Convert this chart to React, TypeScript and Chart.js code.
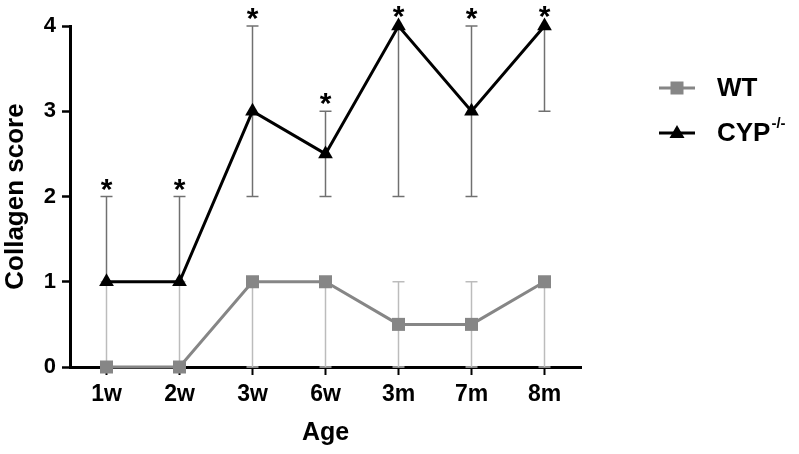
import React, { useEffect, useRef } from 'react';
import { Chart, registerables } from 'chart.js';

Chart.register(...registerables);

const categories = ['1w', '2w', '3w', '6w', '3m', '7m', '8m'];
const wtValues = [0, 0, 1, 1, 0.5, 0.5, 1];
const wtLow = [0, 0, 0, 0, 0, 0, 0];
const wtHigh = [1, 1, 1, 1, 1, 1, 1];
const cypValues = [1, 1, 3, 2.5, 4, 3, 4];
const cypLow = [1, 1, 2, 2, 2, 2, 3];
const cypHigh = [2, 2, 4, 3, 4, 4, 4];
const significant = [true, true, true, true, true, true, true];
const yMin = 0;
const yMax = 4;
const yStep = 1;

const FONT = "'Liberation Sans', Arial, Helvetica, sans-serif";
const WT_COLOR = '#868686';
const CYP_COLOR = '#000000';
const WT_ERR = '#bcbcbc';
const CYP_ERR = '#707070';

const errorBarPlugin = {
  id: 'errorBars',
  beforeDatasetsDraw(chart: any) {
    const { ctx, scales } = chart;
    const xs = scales.x;
    const ys = scales.y;
    const draw = (low: number[], high: number[], vals: number[], color: string) => {
      ctx.save();
      ctx.strokeStyle = color;
      ctx.lineWidth = 1.5;
      const cap = 6;
      vals.forEach((v, i) => {
        const px = xs.getPixelForValue(i);
        const yl = ys.getPixelForValue(low[i]);
        const yh = ys.getPixelForValue(high[i]);
        ctx.beginPath();
        ctx.moveTo(px, yl);
        ctx.lineTo(px, yh);
        ctx.stroke();
        if (high[i] > v) {
          ctx.beginPath();
          ctx.moveTo(px - cap, yh);
          ctx.lineTo(px + cap, yh);
          ctx.stroke();
        }
        if (low[i] < v) {
          ctx.beginPath();
          ctx.moveTo(px - cap, yl);
          ctx.lineTo(px + cap, yl);
          ctx.stroke();
        }
      });
      ctx.restore();
    };
    draw(cypLow, cypHigh, cypValues, CYP_ERR);
    draw(wtLow, wtHigh, wtValues, WT_ERR);
  },
  afterDatasetsDraw(chart: any) {
    const { ctx, scales } = chart;
    const xs = scales.x;
    const ys = scales.y;
    ctx.save();
    ctx.fillStyle = '#000';
    ctx.font = `bold 30px ${FONT}`;
    ctx.textAlign = 'center';
    ctx.textBaseline = 'alphabetic';
    significant.forEach((s, i) => {
      if (!s) return;
      const px = xs.getPixelForValue(i);
      const py = ys.getPixelForValue(cypHigh[i]);
      const onPoint = cypHigh[i] === cypValues[i];
      ctx.fillText('*', px, py + (onPoint ? 0 : 2));
    });
    ctx.restore();
  },
  afterDraw(chart: any) {
    const { ctx, chartArea } = chart;
    const x0 = chartArea.right + 78;
    const x1 = x0 + 36;
    const xm = (x0 + x1) / 2;
    const tx = x1 + 22;
    const rows = [
      { y: 88, color: WT_COLOR, marker: 'square', label: 'WT', sup: '' },
      { y: 133, color: CYP_COLOR, marker: 'triangle', label: 'CYP', sup: '-/-' },
    ];
    ctx.save();
    rows.forEach((r) => {
      ctx.strokeStyle = r.color;
      ctx.lineWidth = 3;
      ctx.beginPath();
      ctx.moveTo(x0, r.y);
      ctx.lineTo(x1, r.y);
      ctx.stroke();
      ctx.fillStyle = r.color;
      if (r.marker === 'square') {
        ctx.fillRect(xm - 6.5, r.y - 6.5, 13, 13);
      } else {
        ctx.beginPath();
        ctx.moveTo(xm, r.y - 8);
        ctx.lineTo(xm + 7.5, r.y + 5);
        ctx.lineTo(xm - 7.5, r.y + 5);
        ctx.closePath();
        ctx.fill();
      }
      ctx.fillStyle = '#000';
      ctx.font = `bold 26px ${FONT}`;
      ctx.textAlign = 'left';
      ctx.textBaseline = 'middle';
      ctx.fillText(r.label, tx, r.y + 1);
      if (r.sup) {
        const w = ctx.measureText(r.label).width;
        ctx.font = `bold 15px ${FONT}`;
        ctx.fillText(r.sup, tx + w + 1, r.y - 9);
      }
    });
    ctx.restore();
  },
};

export default function App() {
  const ref = useRef<HTMLCanvasElement>(null);
  useEffect(() => {
    document.body.style.margin = '0';
    if (!ref.current) return;
    const chart = new Chart(ref.current, {
      type: 'line',
      data: {
        labels: categories,
        datasets: [
          {
            label: 'CYP-/-',
            data: cypValues,
            borderColor: CYP_COLOR,
            backgroundColor: CYP_COLOR,
            borderWidth: 3,
            pointStyle: 'triangle',
            pointRadius: 8.5,
            pointBorderWidth: 0,
            tension: 0,
            clip: false as any,
            order: 1,
          },
          {
            label: 'WT',
            data: wtValues,
            borderColor: WT_COLOR,
            backgroundColor: WT_COLOR,
            borderWidth: 3,
            pointStyle: 'rect',
            pointRadius: 9.2,
            pointBorderWidth: 0,
            tension: 0,
            clip: false as any,
            order: 2,
          },
        ],
      },
      options: {
        responsive: false,
        animation: false,
        layout: { padding: { left: 0, right: 218, top: 26, bottom: 0 } },
        plugins: { legend: { display: false }, tooltip: { enabled: false } },
        scales: {
          x: {
            type: 'category',
            offset: true,
            grid: {
              display: true,
              drawOnChartArea: false,
              drawTicks: true,
              tickLength: 8,
              tickWidth: 2,
              tickColor: '#000',
              offset: false,
            },
            border: { display: true, width: 3, color: '#000' },
            ticks: {
              color: '#000',
              font: { family: FONT, size: 23, weight: 'bold' },
              padding: 6,
              maxRotation: 0,
            },
            title: {
              display: true,
              text: 'Age',
              color: '#000',
              font: { family: FONT, size: 25, weight: 'bold' },
              padding: { top: 0, bottom: 6 },
            },
            afterFit(scale: any) {
              scale.height = 87;
            },
          },
          y: {
            min: yMin,
            max: yMax,
            grid: {
              display: true,
              drawOnChartArea: false,
              drawTicks: true,
              tickLength: 8,
              tickWidth: 2.5,
              tickColor: '#000',
            },
            border: { display: true, width: 3, color: '#000' },
            ticks: {
              stepSize: yStep,
              color: '#000',
              font: { family: FONT, size: 22, weight: 'bold' },
              padding: 6,
            },
            title: {
              display: true,
              text: 'Collagen score',
              color: '#000',
              font: { family: FONT, size: 26, weight: 'bold' },
              padding: { top: 0, bottom: 0 },
            },
            afterFit(scale: any) {
              scale.width = 70;
            },
          },
        },
      },
      plugins: [errorBarPlugin],
    });
    return () => chart.destroy();
  }, []);
  return (
    <div style={{ position: 'absolute', left: 0, top: 0, width: 799, height: 454 }}>
      <canvas ref={ref} width={799} height={454} />
    </div>
  );
}
